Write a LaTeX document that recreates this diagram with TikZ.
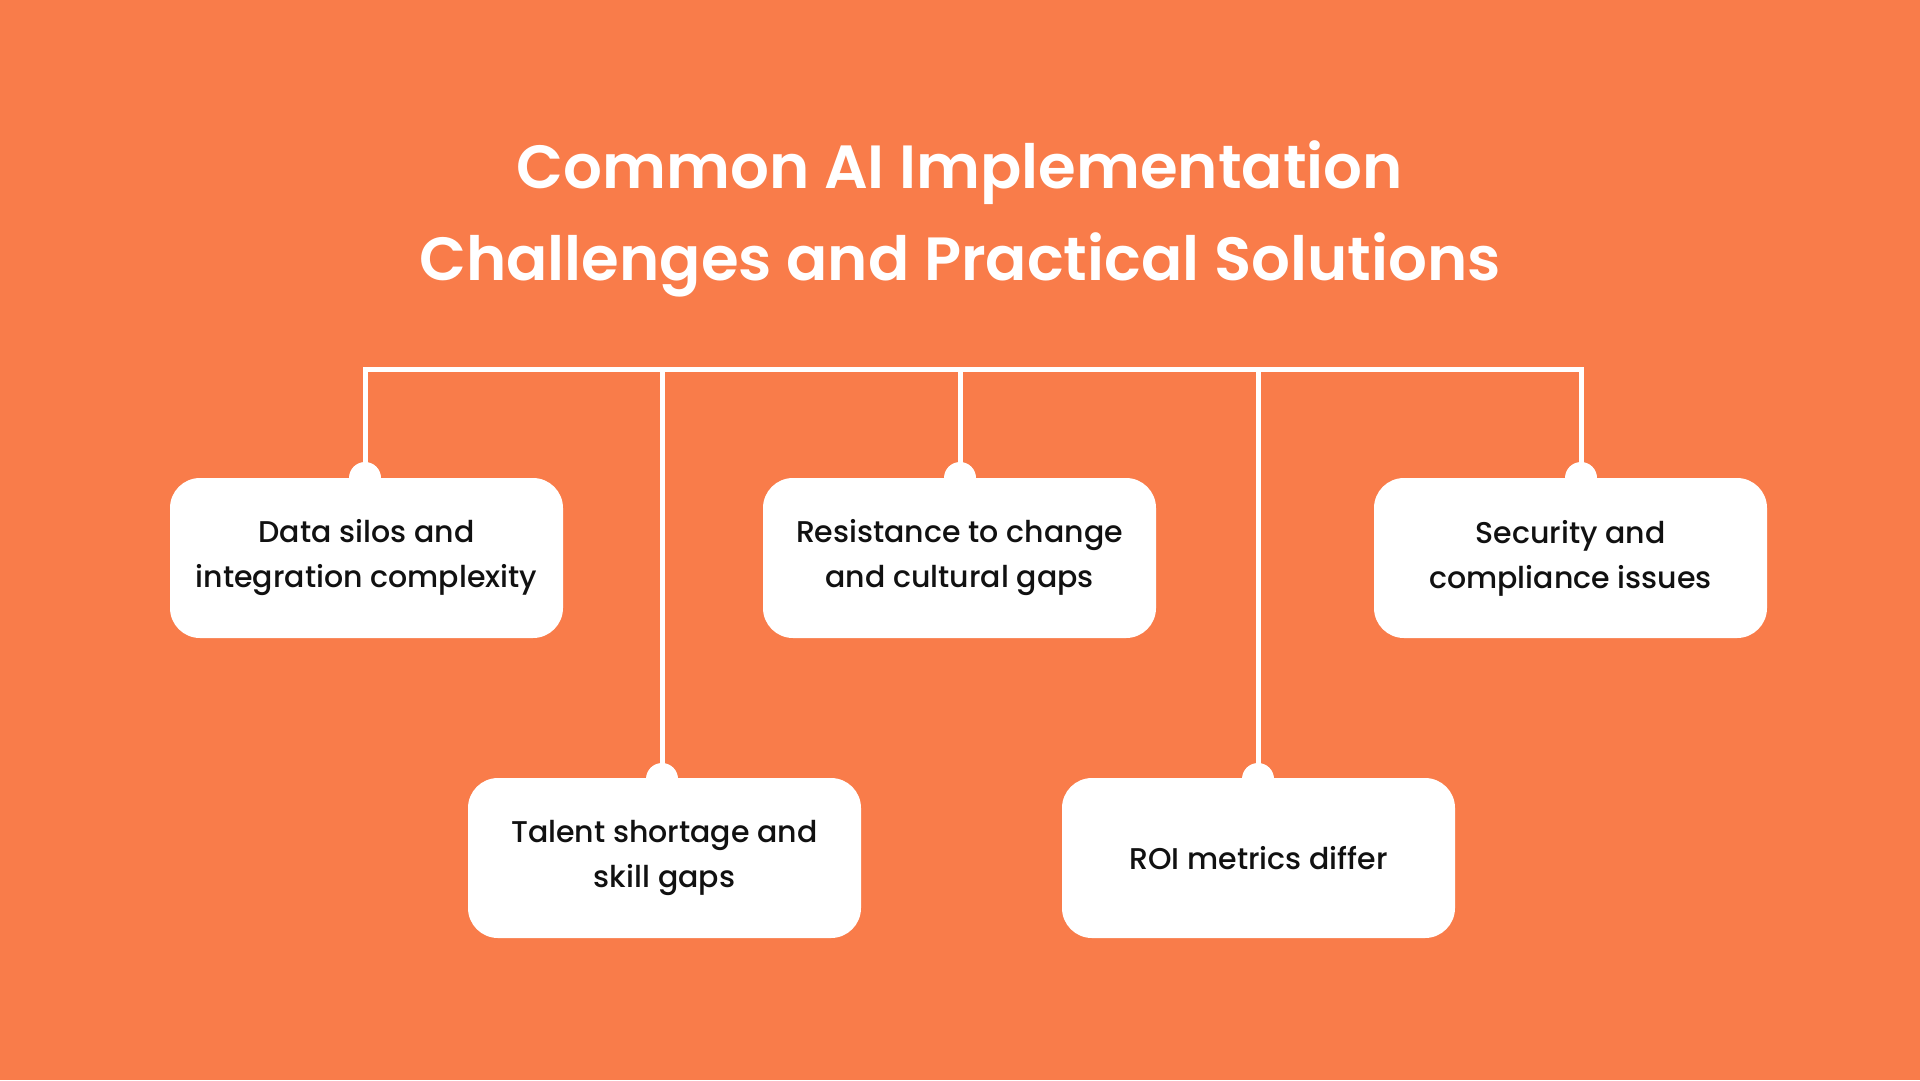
\documentclass[tikz,border=0pt]{standalone}
\usepackage{fontspec}
\setmainfont{Poppins}
\newfontfamily\titlefont{Poppins SemiBold}
\newfontfamily\boxfont{Poppins Medium}
\usetikzlibrary{positioning}
\definecolor{bgorange}{HTML}{F97C4A}
\definecolor{boxtext}{HTML}{111111}

\begin{document}
\begin{tikzpicture}[x=1pt,y=-1pt,
    challenge/.style={fill=white, rounded corners=30pt, minimum width=393pt, minimum height=160pt,
        inner sep=0pt, align=center, text=boxtext, font=\boxfont\fontsize{30}{45}\selectfont},
    twoline/.style={challenge, execute at begin node={\rule{0pt}{40pt}}},
    wire/.style={draw=white, line width=5pt},
    knob/.style={circle, fill=white, minimum size=32pt, inner sep=0pt},
    heading/.style={text=white, font=\titlefont\fontsize{61}{92}\selectfont, anchor=base}]
            %Background
            \fill[bgorange] (0,0) rectangle (1920,1080);

            %Title
            \node[heading] at (960,188) (title1) {Common AI Implementation};
            \node[heading] at (960,280) (title2) {Challenges and Practical Solutions};

            %Bus
            \coordinate (b1) at (365,369);
            \coordinate (b2) at (662,369);
            \coordinate (b3) at (960,369);
            \coordinate (b4) at (1258,369);
            \coordinate (b5) at (1581,369);

            %Knobs
            \node[knob] at (365,478) (k1) {};
            \node[knob] at (662,779) (k2) {};
            \node[knob] at (960,478) (k3) {};
            \node[knob] at (1258,779) (k4) {};
            \node[knob] at (1581,478) (k5) {};

            %Lines
            \draw[wire] (k1.center) -- (b1) -- (b5) -- (k5.center);
            \draw[wire] (b2) -- (k2.center);
            \draw[wire] (b3) -- (k3.center);
            \draw[wire] (b4) -- (k4.center);

            %Nodes
            \node[twoline] at (366.5,558) (silos) {Data silos and\\integration complexity};
            \node[twoline] at (664.5,858) (talent) {Talent shortage and\\skill gaps};
            \node[twoline] at (959.5,558) (culture) {Resistance to change\\and cultural gaps};
            \node[challenge] at (1258.5,858) (roi) {ROI metrics differ};
            \node[twoline] at (1570.5,558) (security) {Security and\\compliance issues};
        \end{tikzpicture}
\end{document}
